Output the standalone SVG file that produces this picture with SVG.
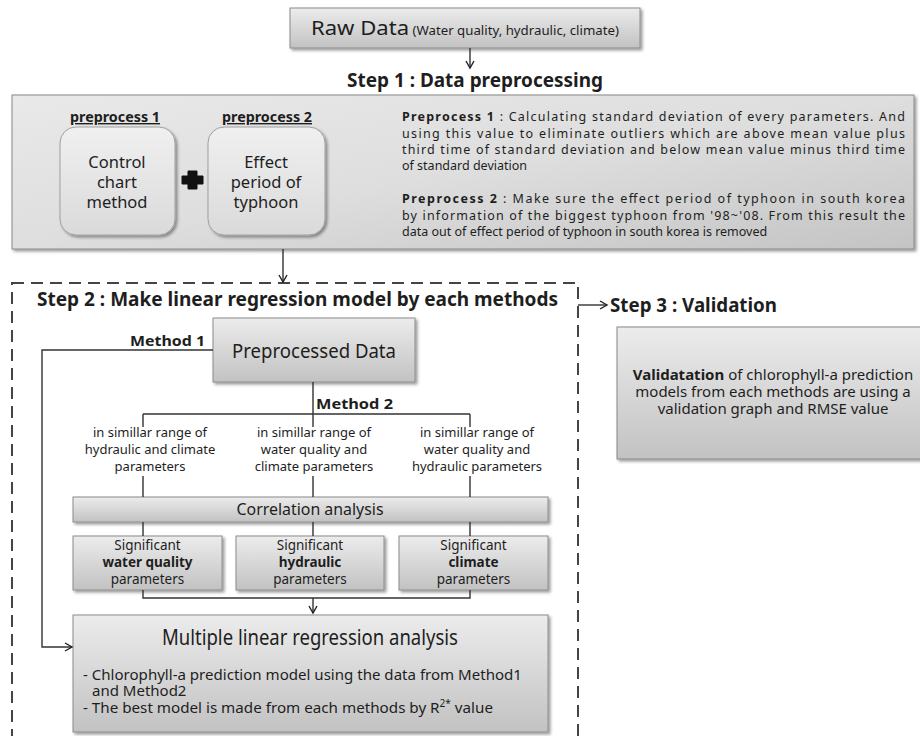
<svg xmlns="http://www.w3.org/2000/svg" width="920" height="736" viewBox="0 0 920 736">
<defs>
<linearGradient id="g" x1="0" y1="0" x2="0" y2="1">
<stop offset="0" stop-color="#ececec"/><stop offset="1" stop-color="#c2c2c2"/>
</linearGradient>
<linearGradient id="g1" x1="0" y1="0" x2="1" y2="1">
<stop offset="0" stop-color="#e9e9e9"/><stop offset="0.5" stop-color="#dedede"/><stop offset="1" stop-color="#c4c4c4"/>
</linearGradient>
<linearGradient id="gr" x1="0" y1="0" x2="0" y2="1">
<stop offset="0" stop-color="#f0f0f0"/><stop offset="1" stop-color="#dadada"/>
</linearGradient>
<filter id="sh" x="-5%" y="-5%" width="115%" height="125%">
<feDropShadow dx="2" dy="2" stdDeviation="1.5" flood-color="#000" flood-opacity="0.4"/>
</filter>
<marker id="ah" markerWidth="12" markerHeight="12" refX="9" refY="5" orient="auto" markerUnits="userSpaceOnUse">
<path d="M2,1 L9,5 L2,9" fill="none" stroke="#222" stroke-width="1.4"/>
</marker>
</defs>
<style>
text{font-family:"Noto Sans","Open Sans","Liberation Sans",sans-serif;fill:#1e1e1e}
.box{fill:url(#g);stroke:#8c8c8c;stroke-width:1;filter:url(#sh)}
.rbox{fill:url(#gr);stroke:#a0a0a0;stroke-width:1;filter:url(#sh)}
.ln{fill:none;stroke:#333;stroke-width:1.4}
.b{font-weight:bold}
.c{text-anchor:middle}
.p{font-size:12.5px}
.m2{font-size:13px;text-anchor:middle}
.sig{font-size:13.5px;text-anchor:middle}
.step{font-size:19px;font-weight:bold}
</style>

<g id="raw-data">
<rect class="box" x="290" y="8" width="350" height="40"/>
<text class="c" x="465" y="35" textLength="308" lengthAdjust="spacingAndGlyphs"><tspan font-size="20">Raw Data</tspan><tspan font-size="12"> (Water quality, hydraulic, climate)</tspan></text>
</g>

<g id="step1-title"><text class="step c" x="475" y="87" textLength="256" lengthAdjust="spacingAndGlyphs">Step 1 : Data preprocessing</text></g>

<g id="step1">
<rect x="12" y="95" width="902" height="154" fill="url(#g1)" stroke="#888" stroke-width="1" filter="url(#sh)"/>
<text class="b c" x="115" y="122" font-size="14" text-decoration="underline" textLength="90" lengthAdjust="spacingAndGlyphs">preprocess 1</text>
<text class="b c" x="267" y="122" font-size="14" text-decoration="underline" textLength="90" lengthAdjust="spacingAndGlyphs">preprocess 2</text>
<g id="preprocess1">
<rect class="rbox" x="60" y="127" width="115" height="108" rx="16"/>
<text class="c" x="117" font-size="16.5"><tspan x="117" y="168">Control</tspan><tspan x="117" y="188">chart</tspan><tspan x="117" y="208">method</tspan></text>
</g>
<path d="M188,171 h9 v5 h6 v8 h-6 v5 h-9 v-5 h-6 v-8 h6 z" fill="#111" stroke="#111" stroke-width="1" stroke-linejoin="round"/>
<g id="preprocess2">
<rect class="rbox" x="208" y="127" width="117" height="108" rx="16"/>
<text class="c" x="266" font-size="16.5"><tspan x="266" y="168">Effect</tspan><tspan x="266" y="188">period of</tspan><tspan x="266" y="208">typhoon</tspan></text>
</g>
<text class="p" x="402" y="121" textLength="503" lengthAdjust="spacing"><tspan class="b">Preprocess 1</tspan> : Calculating standard deviation of every parameters. And</text>
<text class="p" x="402" y="138" textLength="503" lengthAdjust="spacing">using this value to eliminate outliers which are above mean value plus</text>
<text class="p" x="402" y="154" textLength="503" lengthAdjust="spacing">third time of standard deviation and below mean value minus third time</text>
<text class="p" x="402" y="170">of standard deviation</text>
<text class="p" x="402" y="203" textLength="503" lengthAdjust="spacing"><tspan class="b">Preprocess 2</tspan> : Make sure the effect period of typhoon in south korea</text>
<text class="p" x="402" y="220" textLength="503" lengthAdjust="spacing">by information of the biggest typhoon from '98~'08. From this result the</text>
<text class="p" x="402" y="236">data out of effect period of typhoon in south korea is removed</text>
</g>

<g id="step2-frame">
<rect x="12" y="283" width="566" height="480" fill="none" stroke="#444" stroke-width="2" stroke-dasharray="12 7"/>
<text class="step" x="37" y="306" textLength="521" lengthAdjust="spacingAndGlyphs">Step 2 : Make linear regression model by each methods</text>
</g>

<g id="step3">
<text class="step" x="610" y="312" textLength="167" lengthAdjust="spacingAndGlyphs">Step 3 : Validation</text>
<rect x="617" y="327" width="320" height="132" fill="url(#g)" stroke="#888" stroke-width="1" filter="url(#sh)"/>
<text class="c" x="773" font-size="15"><tspan x="773" y="380"><tspan class="b">Validatation</tspan> of chlorophyll-a prediction</tspan><tspan x="773" y="397">models from each methods are using a</tspan><tspan x="773" y="414">validation graph and RMSE value</tspan></text>
</g>

<g id="preprocessed-data">
<rect class="box" x="213" y="318" width="202" height="64"/>
<text class="c" x="314" y="358" font-size="20" textLength="164" lengthAdjust="spacingAndGlyphs">Preprocessed Data</text>
</g>

<g id="method-texts">
<text class="b" x="205" y="346" font-size="15" text-anchor="end" textLength="75" lengthAdjust="spacingAndGlyphs">Method 1</text>
<text class="b" x="316" y="409" font-size="15" textLength="77" lengthAdjust="spacingAndGlyphs">Method 2</text>
<text class="m2" x="150"><tspan x="150" y="437">in simillar range of</tspan><tspan x="150" y="454">hydraulic and climate</tspan><tspan x="150" y="471">parameters</tspan></text>
<text class="m2" x="314"><tspan x="314" y="437">in simillar range of</tspan><tspan x="314" y="454">water quality and</tspan><tspan x="314" y="471">climate parameters</tspan></text>
<text class="m2" x="477"><tspan x="477" y="437">in simillar range of</tspan><tspan x="477" y="454">water quality and</tspan><tspan x="477" y="471">hydraulic parameters</tspan></text>
</g>

<g id="correlation">
<rect class="box" x="73" y="497" width="475" height="25"/>
<text class="c" x="310" y="515" font-size="17" textLength="147" lengthAdjust="spacingAndGlyphs">Correlation analysis</text>
</g>

<g id="sig-wq">
<rect class="box" x="73" y="536" width="149" height="54"/>
<text class="sig" x="147.5"><tspan x="147.5" y="550">Significant</tspan><tspan x="147.5" y="567" class="b">water quality</tspan><tspan x="147.5" y="584">parameters</tspan></text>
</g>
<g id="sig-hy">
<rect class="box" x="236" y="536" width="148" height="54"/>
<text class="sig" x="310"><tspan x="310" y="550">Significant</tspan><tspan x="310" y="567" class="b">hydraulic</tspan><tspan x="310" y="584">parameters</tspan></text>
</g>
<g id="sig-cl">
<rect class="box" x="399" y="536" width="149" height="54"/>
<text class="sig" x="473.5"><tspan x="473.5" y="550">Significant</tspan><tspan x="473.5" y="567" class="b">climate</tspan><tspan x="473.5" y="584">parameters</tspan></text>
</g>

<g id="mlr">
<rect class="box" x="73" y="615" width="475" height="117"/>
<text class="c" x="310" y="645" font-size="21" textLength="296" lengthAdjust="spacingAndGlyphs">Multiple linear regression analysis</text>
<text x="83" y="680" font-size="15" textLength="439" lengthAdjust="spacingAndGlyphs">- Chlorophyll-a prediction model using the data from Method1</text>
<text x="92" y="696" font-size="15">and Method2</text>
<text x="83" y="713" font-size="15" textLength="410" lengthAdjust="spacingAndGlyphs">- The best model is made from each methods by R<tspan font-size="10" dy="-6">2*</tspan><tspan dy="6"> value</tspan></text>
</g>

<g id="connectors">
<path class="ln" d="M470,48 V68" marker-end="url(#ah)"/>
<path class="ln" d="M283,249 V282" marker-end="url(#ah)"/>
<path class="ln" d="M578,305 H607" marker-end="url(#ah)"/>
<path class="ln" d="M213,350 H42 V647 H72" marker-end="url(#ah)"/>
<path class="ln" d="M313,382 V427 M143,414 H470 M143,414 V427 M470,414 V427"/>
<path class="ln" d="M143,476 V497 M313,476 V497 M470,476 V497"/>
<path class="ln" d="M143,522 V536 M313,522 V536 M470,522 V536"/>
<path class="ln" d="M143,590 V598 H470 V590"/>
<path class="ln" d="M313,598 V613" marker-end="url(#ah)"/>
</g>
</svg>
